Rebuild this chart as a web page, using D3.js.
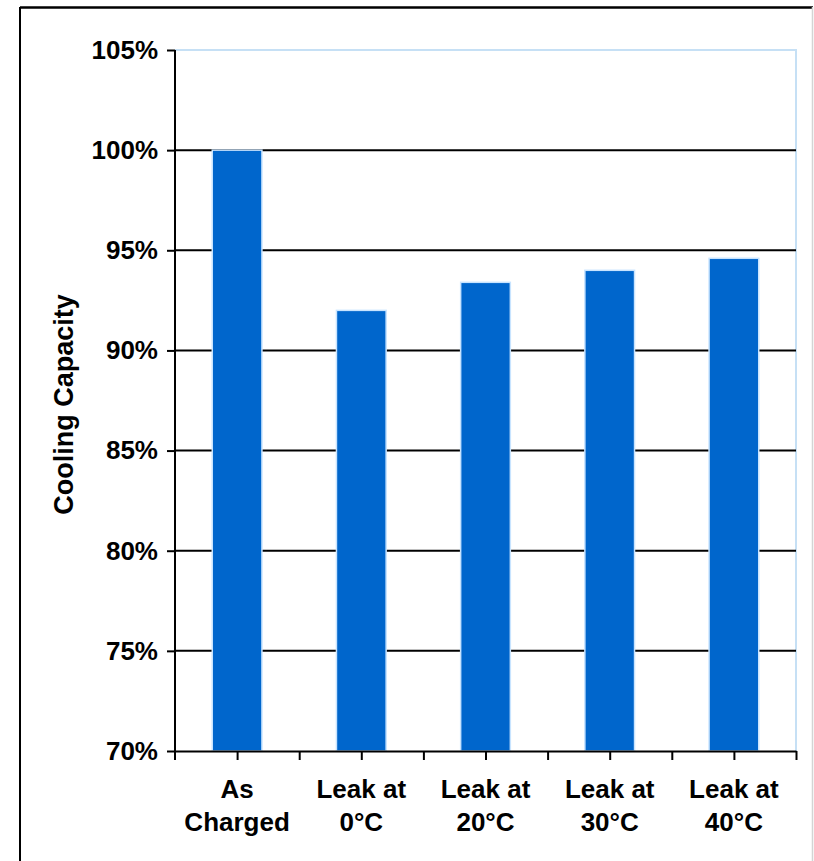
<!DOCTYPE html>
<html>
<head>
<meta charset="utf-8">
<script src="https://cdn.jsdelivr.net/npm/d3@7"></script>
<style>
  html, body { margin: 0; padding: 0; background: #fff; }
  svg { display: block; }
  text { font-family: "Liberation Sans", Arial, sans-serif; font-weight: bold; fill: #000; }
</style>
</head>
<body>
<script>
// Cooling capacity relative to the as-charged system
const categories = [["As", "Charged"], ["Leak at", "0°C"], ["Leak at", "20°C"], ["Leak at", "30°C"], ["Leak at", "40°C"]];
const capacity = [1.000, 0.920, 0.934, 0.940, 0.946];
const yTicks = [0.70, 0.75, 0.80, 0.85, 0.90, 0.95, 1.00, 1.05];

const W = 814, H = 861;
const plot = { left: 175, right: 796, top: 50, bottom: 751 };

const svg = d3.select("body").append("svg").attr("width", W).attr("height", H);

// outer frame
svg.append("line").attr("x1", 20).attr("x2", 20).attr("y1", 7).attr("y2", H)
  .attr("stroke", "#000").attr("stroke-width", 2);
svg.append("line").attr("x1", 20).attr("x2", 813).attr("y1", 7.5).attr("y2", 7.5)
  .attr("stroke", "#000").attr("stroke-width", 2.5);
svg.append("line").attr("x1", 812.5).attr("x2", 812.5).attr("y1", 7).attr("y2", H)
  .attr("stroke", "#d4d4d4").attr("stroke-width", 1.5);

const keys = d3.range(categories.length);
const x = d3.scaleBand().domain(keys).range([plot.left, plot.right])
  .paddingInner(0.6).paddingOuter(0.3);
const y = d3.scaleLinear().domain([0.70, 1.05]).range([plot.bottom, plot.top]);

// plot area edge (top and right)
svg.append("path")
  .attr("d", `M${plot.left},${y(1.05)}H${plot.right}V${plot.bottom}`)
  .attr("fill", "none").attr("stroke", "#c6e0f5").attr("stroke-width", 2);

// horizontal gridlines
svg.append("g").selectAll("line")
  .data(yTicks.filter(v => v > 0.70 && v < 1.05))
  .join("line")
  .attr("x1", plot.left).attr("x2", plot.right)
  .attr("y1", d => y(d)).attr("y2", d => y(d))
  .attr("stroke", "#000").attr("stroke-width", 2);

// bars
svg.append("g").selectAll("rect")
  .data(capacity)
  .join("rect")
  .attr("x", (d, i) => x(i))
  .attr("y", d => y(d))
  .attr("width", x.bandwidth())
  .attr("height", d => y(0.70) - y(d))
  .attr("fill", "#0066cc")
  .attr("stroke", "#c8e4ff")
  .attr("stroke-width", 1.5);

// y axis
const yAxis = svg.append("g")
  .attr("transform", `translate(${plot.left},0)`)
  .call(d3.axisLeft(y).tickValues(yTicks).tickFormat(d3.format(".0%"))
    .tickSize(8).tickSizeOuter(0).tickPadding(9));
yAxis.select(".domain").attr("stroke", "#000").attr("stroke-width", 2)
  .attr("d", `M0,${plot.top}V${plot.bottom + 9}`);
yAxis.selectAll(".tick line").attr("stroke", "#000").attr("stroke-width", 2);
yAxis.selectAll(".tick text")
  .style("font-family", "'Liberation Sans', Arial, sans-serif")
  .style("font-weight", "bold").style("font-size", "26px").attr("fill", "#000");

// x axis: tick marks at category edges and centres
const xTickScale = d3.scaleLinear().domain([0, categories.length * 2]).range([plot.left, plot.right]);
const xAxis = svg.append("g")
  .attr("transform", `translate(0,${plot.bottom})`)
  .call(d3.axisBottom(xTickScale).tickValues(d3.range(1, categories.length * 2 + 1))
    .tickFormat("").tickSize(9).tickSizeOuter(0));
xAxis.select(".domain").attr("stroke", "#000").attr("stroke-width", 2);
xAxis.selectAll(".tick line").attr("stroke", "#000").attr("stroke-width", 2);

// category labels
const lab = svg.append("g").selectAll("text")
  .data(categories)
  .join("text")
  .attr("text-anchor", "middle")
  .style("font-size", "26px")
  .attr("x", (d, i) => x(i) + x.bandwidth() / 2);
lab.append("tspan").attr("x", (d, i) => x(i) + x.bandwidth() / 2).attr("y", 798).text(d => d[0]);
lab.append("tspan").attr("x", (d, i) => x(i) + x.bandwidth() / 2).attr("y", 831).text(d => d[1]);

// y axis title
svg.append("text")
  .attr("transform", `translate(73,${(plot.top + plot.bottom) / 2 + 4}) rotate(-90)`)
  .attr("text-anchor", "middle")
  .style("font-size", "27px")
  .text("Cooling Capacity");
</script>
</body>
</html>
